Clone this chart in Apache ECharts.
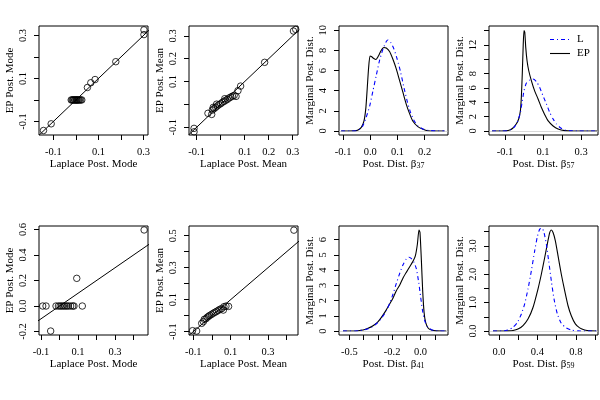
<!DOCTYPE html>
<html><head><meta charset="utf-8">
<script src="https://cdn.jsdelivr.net/npm/echarts@6/dist/echarts.min.js"></script>
<style>html,body{margin:0;padding:0;background:#fff}#c{width:600px;height:400px}</style>
</head><body><div id="c"></div>
<script>
// ---------- DATA ----------
// Panel 1: posterior modes
const p1Laplace = [-0.144,-0.110,-0.021,-0.017,-0.013,-0.011,-0.006,-0.004,0.000,0.003,0.005,0.009,0.012,0.016,0.021,0.026,0.051,0.066,0.085,0.177,0.302,0.302];
const p1EP      = [-0.142,-0.111,0,0,0,0,0,0,0,0,0,0,0,0,0,0,0.058,0.080,0.095,0.178,0.326,0.304];
// Panel 2: posterior means
const p2Laplace = [-0.111,-0.111,-0.053,-0.0375,-0.035,-0.031,-0.028,-0.021,-0.017,-0.014,-0.007,0.000,0.007,0.014,0.017,0.021,0.028,0.035,0.042,0.049,0.056,0.064,0.072,0.083,0.183,0.303,0.3125];
const p2EP      = [-0.105,-0.120,-0.039,-0.044,-0.025,-0.013,-0.019,-0.013,0.001,-0.007,-0.001,0.003,0.009,0.013,0.025,0.018,0.022,0.028,0.032,0.036,0.039,0.035,0.060,0.080,0.184,0.321,0.328];
// Panel 5: posterior modes (second data set)
const p5Laplace = [-0.091,-0.073,-0.048,-0.019,-0.006,0.003,0.012,0.021,0.030,0.039,0.048,0.060,0.071,0.078,0.093,0.123,0.457];
const p5EP      = [0,0,-0.196,0,0,0,0,0,0,0,0,0,0,0,0.217,0,0.596];
// Panel 6: posterior means (second data set)
const p6Laplace = [-0.104,-0.082,-0.055,-0.046,-0.041,-0.032,-0.025,-0.018,-0.011,-0.002,0.007,0.016,0.025,0.034,0.043,0.052,0.061,0.064,0.075,0.089,0.439];
const p6EP      = [-0.094,-0.096,-0.048,-0.0375,-0.023,-0.019,-0.010,-0.004,0.002,0.008,0.015,0.021,0.027,0.033,0.040,0.044,0.035,0.056,0.060,0.058,0.535];

// Panel 3: beta_37 marginal densities
const p3EPx = [-0.107,-0.08,-0.058,-0.045,-0.033,-0.023,-0.016,-0.011,-0.006,-0.001,0.004,0.013,0.021,0.031,0.040,0.050,0.059,0.071,0.083,0.096,0.108,0.120,0.132,0.145,0.157,0.175,0.194,0.212,0.24,0.273];
const p3EPy = [0,0,0.01,0.1,0.36,1.0,2.35,4.3,6.3,7.45,7.4,7.2,7.1,7.5,8.0,8.3,8.25,7.9,7.15,6.15,5.0,3.85,2.7,1.7,0.96,0.43,0.17,0.03,0,0];
const p3Lx  = [-0.107,-0.07,-0.05,-0.039,-0.027,-0.015,-0.002,0.010,0.022,0.034,0.047,0.059,0.065,0.075,0.087,0.099,0.112,0.124,0.136,0.148,0.161,0.175,0.194,0.212,0.24,0.273];
const p3Ly  = [0,0,0.03,0.17,0.53,1.36,2.5,4.0,5.5,7.0,8.15,8.9,9.04,8.8,8.15,7.15,5.8,4.3,2.95,1.85,1.03,0.5,0.2,0.07,0.01,0];
// Panel 4: beta_57
const p4EPx = [-0.168,-0.12,-0.093,-0.075,-0.058,-0.040,-0.028,-0.019,-0.014,-0.009,-0.004,0.0,0.004,0.009,0.016,0.025,0.039,0.056,0.074,0.091,0.109,0.126,0.153,0.179,0.214,0.26,0.30,0.384];
const p4EPy = [0,0,0.02,0.14,0.42,1.0,1.67,2.8,4.7,8.0,12.1,14.0,13.8,11.7,9.8,8.4,7.0,5.6,4.47,3.3,2.28,1.44,0.7,0.28,0.05,0,0,0];
const p4Lx  = [-0.168,-0.12,-0.09,-0.067,-0.049,-0.032,-0.019,-0.009,0.0,0.012,0.030,0.047,0.065,0.082,0.1,0.118,0.135,0.153,0.17,0.193,0.214,0.24,0.28,0.384];
const p4Ly  = [0,0,0.04,0.23,0.6,1.44,2.6,4.2,5.6,6.65,7.1,7.25,6.9,6.1,4.9,3.77,2.6,1.67,0.98,0.42,0.14,0.05,0,0];
// Panel 7: beta_41
const p7EPx = [-0.545,-0.47,-0.44,-0.404,-0.369,-0.334,-0.303,-0.275,-0.247,-0.217,-0.193,-0.170,-0.146,-0.123,-0.1,-0.076,-0.053,-0.036,-0.022,-0.011,-0.004,0.006,0.015,0.025,0.036,0.053,0.076,0.11,0.181];
const p7EPy = [0,0,0.02,0.07,0.18,0.35,0.57,0.9,1.29,1.77,2.17,2.65,3.02,3.48,3.85,4.22,4.57,4.95,5.71,6.63,6.48,4.62,2.65,1.22,0.57,0.2,0.07,0.01,0];
const p7Lx  = [-0.545,-0.46,-0.43,-0.392,-0.345,-0.303,-0.27,-0.24,-0.217,-0.193,-0.170,-0.146,-0.123,-0.1,-0.081,-0.064,-0.046,-0.029,-0.013,0.001,0.015,0.029,0.048,0.076,0.11,0.181];
const p7Ly  = [0,0,0.03,0.09,0.24,0.53,0.9,1.33,1.82,2.43,3.13,3.79,4.35,4.73,4.84,4.75,4.51,4.07,3.2,2.21,1.29,0.68,0.28,0.09,0.02,0];
// Panel 8: beta_59
const p8EPx = [-0.0625,0.05,0.094,0.146,0.198,0.25,0.302,0.354,0.406,0.441,0.476,0.503,0.528,0.545,0.563,0.587,0.615,0.649,0.684,0.719,0.753,0.795,0.84,0.892,0.95,1.014];
const p8EPy = [0,0,0.005,0.02,0.07,0.19,0.42,0.83,1.48,2.0,2.59,3.06,3.47,3.56,3.47,3.18,2.65,2.0,1.42,0.89,0.54,0.25,0.11,0.035,0.005,0];
const p8Lx  = [-0.0625,0.03,0.06,0.094,0.146,0.191,0.233,0.267,0.302,0.337,0.372,0.399,0.424,0.448,0.469,0.493,0.517,0.545,0.573,0.608,0.649,0.701,0.753,0.82,0.9,1.014];
const p8Ly  = [0,0,0.01,0.035,0.13,0.3,0.6,0.95,1.48,2.12,2.83,3.32,3.59,3.63,3.47,3.06,2.48,1.77,1.13,0.6,0.27,0.11,0.035,0.005,0,0];

// Tick positions and labelled ticks
const p1XTicks = [-0.1,0,0.1,0.2,0.3], p1XLabels = [-0.1,0.1,0.3];
const p1YTicks = [-0.1,0,0.1,0.2,0.3], p1YLabels = [-0.1,0.1,0.3];
const p2XTicks = [-0.1,0,0.1,0.2,0.3], p2XLabels = [-0.1,0.1,0.2,0.3];
const p2YTicks = [-0.1,0,0.1,0.2,0.3], p2YLabels = [-0.1,0.1,0.2,0.3];
const p3XTicks = [-0.1,0,0.1,0.2], p3XLabels = [-0.1,0,0.1,0.2];
const p3YTicks = [0,2,4,6,8,10], p3YLabels = [0,2,4,6,8,10];
const p4XTicks = [-0.1,0,0.1,0.2,0.3], p4XLabels = [-0.1,0.1,0.3];
const p4YTicks = [0,2,4,6,8,10,12,14], p4YLabels = [0,2,4,6,8,12];
const p5XTicks = [-0.1,0,0.1,0.2,0.3,0.4], p5XLabels = [-0.1,0.1,0.3];
const p5YTicks = [-0.2,0,0.2,0.4,0.6], p5YLabels = [-0.2,0,0.2,0.4,0.6];
const p6XTicks = [-0.1,0,0.1,0.2,0.3,0.4], p6XLabels = [-0.1,0.1,0.3];
const p6YTicks = [-0.1,0,0.1,0.2,0.3,0.4,0.5], p6YLabels = [-0.1,0.1,0.3,0.5];
const p7XTicks = [-0.5,-0.4,-0.3,-0.2,-0.1,0,0.1,0.2], p7XLabels = [-0.5,-0.2,0,0.2];
const p7YTicks = [0,1,2,3,4,5,6], p7YLabels = [0,1,2,3,4,5,6];
const p8XTicks = [0,0.2,0.4,0.6,0.8,1.0], p8XLabels = [0,0.4,0.8];
const p8YTicks = [0,0.5,1,1.5,2,2.5,3,3.5], p8YLabels = [0,1,2,3];
const legendNames = ['L', 'EP'];

// ---------- LAYOUT / STYLE ----------
const FONT = '"Liberation Serif","Times New Roman",Times,serif';
const BLUE = '#0000ff';
const DASH = [4,3,1,3];
const zip = (a, b) => a.map((v, i) => [v, b[i]]);
const sub = s => '{a|Post. Dist. \u03b2}{b|' + s + '}';

const panels = [
  {left:39,  top:26,  x:[-0.164,0.320], y:[-0.163,0.344], xt:p1XTicks, xl:p1XLabels, yt:p1YTicks, yl:p1YLabels, xd:1, yd:1, xn:'Laplace Post. Mode', yn:'EP Post. Mode'},
  {left:189, top:26,  x:[-0.132,0.322], y:[-0.134,0.343], xt:p2XTicks, xl:p2XLabels, yt:p2YTicks, yl:p2YLabels, xd:1, yd:1, xn:'Laplace Post. Mean', yn:'EP Post. Mean'},
  {left:339, top:26,  x:[-0.115,0.286], y:[-0.40,10.43], xt:p3XTicks, xl:p3XLabels, yt:p3YTicks, yl:p3YLabels, xd:1, yd:0, xn:sub('37'), yn:'Marginal Post. Dist.'},
  {left:489, top:26,  x:[-0.184,0.389], y:[-0.56,14.64], xt:p4XTicks, xl:p4XLabels, yt:p4YTicks, yl:p4YLabels, xd:1, yd:0, xn:sub('57'), yn:'Marginal Post. Dist.'},
  {left:39,  top:226, x:[-0.111,0.478], y:[-0.227,0.627], xt:p5XTicks, xl:p5XLabels, yt:p5YTicks, yl:p5YLabels, xd:1, yd:1, xn:'Laplace Post. Mode', yn:'EP Post. Mode'},
  {left:189, top:226, x:[-0.123,0.461], y:[-0.121,0.561], xt:p6XTicks, xl:p6XLabels, yt:p6YTicks, yl:p6YLabels, xd:1, yd:1, xn:'Laplace Post. Mean', yn:'EP Post. Mean'},
  {left:339, top:226, x:[-0.573,0.193], y:[-0.26,6.89],  xt:p7XTicks, xl:p7XLabels, yt:p7YTicks, yl:p7YLabels, xd:1, yd:0, xn:sub('41'), yn:'Marginal Post. Dist.'},
  {left:489, top:226, x:[-0.104,1.031], y:[-0.14,3.70],  xt:p8XTicks, xl:p8XLabels, yt:p8YTicks, yl:p8YLabels, xd:1, yd:1, xn:sub('59'), yn:'Marginal Post. Dist.'}
];

const grids = [], xAxes = [], yAxes = [], series = [];
const nameStyle = {fontFamily:FONT, fontSize:11, color:'#000',
  rich:{a:{fontFamily:FONT, fontSize:11, color:'#000', lineHeight:13, verticalAlign:'bottom'},
        b:{fontFamily:FONT, fontSize:8, color:'#000', lineHeight:9, verticalAlign:'bottom'}}};

panels.forEach((p, i) => {
  grids.push({left:p.left, top:p.top, width:109, height:109, show:true, borderColor:'#000', borderWidth:1, backgroundColor:'transparent'});
  xAxes.push({type:'value', gridIndex:i, min:p.x[0], max:p.x[1], position:'bottom',
    axisLine:{show:false, onZero:false}, splitLine:{show:false},
    axisTick:{show:true, length:5, customValues:p.xt, lineStyle:{color:'#000', width:1}},
    axisLabel:{show:true, customValues:p.xl, margin:12, fontFamily:FONT, fontSize:10.5, color:'#000', hideOverlap:false,
      formatter:v => (+v).toFixed(p.xd)},
    name:p.xn, nameLocation:'middle', nameGap:22, nameTextStyle:nameStyle});
  yAxes.push({type:'value', gridIndex:i, min:p.y[0], max:p.y[1], position:'left',
    axisLine:{show:false, onZero:false}, splitLine:{show:false},
    axisTick:{show:true, length:5, customValues:p.yt, lineStyle:{color:'#000', width:1}},
    axisLabel:{show:true, customValues:p.yl, margin:10, rotate:90, fontFamily:FONT, fontSize:10.5, color:'#000', hideOverlap:false,
      formatter:v => (+v).toFixed(p.yd)},
    name:p.yn, nameLocation:'middle', nameGap:23, nameTextStyle:nameStyle});
});

function scatterPanel(i, xs, ys) {
  const p = panels[i];
  const lo = Math.min(p.x[0], p.y[0]), hi = Math.max(p.x[1], p.y[1]);
  series.push({type:'line', xAxisIndex:i, yAxisIndex:i, data:[[lo,lo],[hi,hi]], symbol:'none', clip:true,
    lineStyle:{color:'#000', width:1}, silent:true});
  series.push({type:'scatter', xAxisIndex:i, yAxisIndex:i, data:zip(xs, ys), symbol:'circle', symbolSize:6.5,
    itemStyle:{color:'rgba(0,0,0,0)', borderColor:'#000', borderWidth:1}, silent:true});
}
function densityPanel(i, ex, ey, lx, ly) {
  series.push({name:legendNames[1], type:'line', xAxisIndex:i, yAxisIndex:i, data:zip(ex, ey), symbol:'none', smooth:0.2, clip:true,
    color:'#000', lineStyle:{color:'#000', width:1.1}, silent:true,
    markLine:{silent:true, symbol:['none','none'], label:{show:false}, animation:false,
      lineStyle:{color:'#bebebe', width:0.6, type:'solid'}, data:[{yAxis:0}]}});
  series.push({name:legendNames[0], type:'line', xAxisIndex:i, yAxisIndex:i, data:zip(lx, ly), symbol:'none', smooth:0.2, clip:true,
    color:BLUE, lineStyle:{color:BLUE, width:1.1, type:DASH}, silent:true});
}
scatterPanel(0, p1Laplace, p1EP);
scatterPanel(1, p2Laplace, p2EP);
densityPanel(2, p3EPx, p3EPy, p3Lx, p3Ly);
densityPanel(3, p4EPx, p4EPy, p4Lx, p4Ly);
scatterPanel(4, p5Laplace, p5EP);
scatterPanel(5, p6Laplace, p6EP);
densityPanel(6, p7EPx, p7EPy, p7Lx, p7Ly);
densityPanel(7, p8EPx, p8EPy, p8Lx, p8Ly);

// legend drawn as graphic (R-style line legend)
const legendGraphic = [
  {type:'line', shape:{x1:550, y1:39.5, x2:570, y2:39.5}, style:{stroke:BLUE, lineWidth:1.1, lineDash:DASH}, silent:true},
  {type:'text', x:577, y:39.5, style:{text:legendNames[0], font:'11px ' + FONT, fill:'#000', textVerticalAlign:'middle'}, silent:true},
  {type:'line', shape:{x1:550, y1:53.5, x2:570, y2:53.5}, style:{stroke:'#000', lineWidth:1.1}, silent:true},
  {type:'text', x:577, y:53.5, style:{text:legendNames[1], font:'11px ' + FONT, fill:'#000', textVerticalAlign:'middle'}, silent:true}
];

const chart = echarts.init(document.getElementById('c'), null, {renderer:'canvas'});
chart.setOption({
  animation:false,
  backgroundColor:'#fff',
  grid:grids, xAxis:xAxes, yAxis:yAxes, series:series,
  graphic:legendGraphic
});
</script></body></html>
